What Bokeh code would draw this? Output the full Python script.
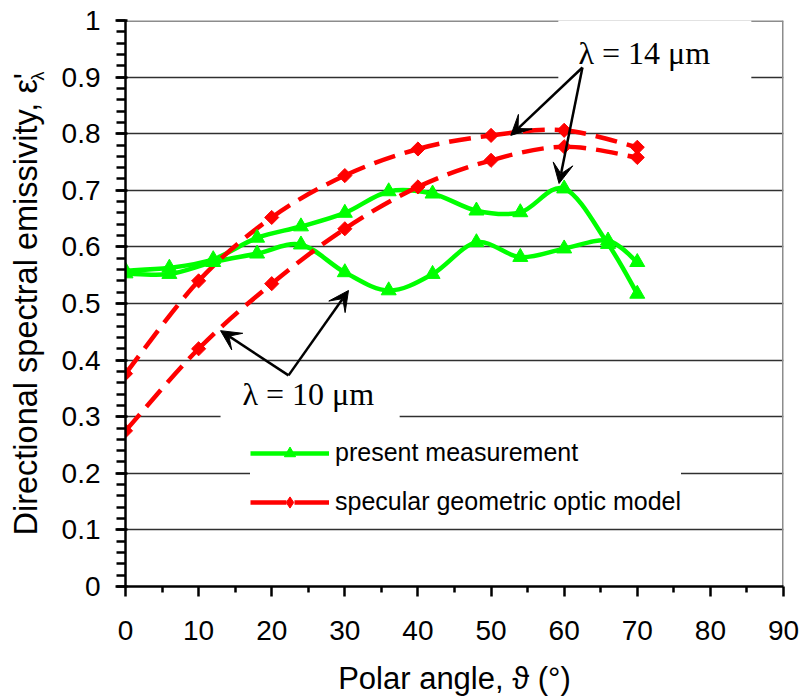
import numpy as np
from bokeh.plotting import figure
from bokeh.layouts import row
from bokeh.models import (Range1d, FixedTicker, Label, Span, BoxAnnotation,
                          Arrow, VeeHead, Legend, LegendItem)
from bokeh.embed import file_html
from bokeh.resources import INLINE

# ---------------- data ----------------
ANGLE_MEAS = [0, 6, 12, 18, 24, 30, 36, 42, 48, 54, 60, 66, 70]
MEAS_14UM = [0.558, 0.563, 0.578, 0.616, 0.636, 0.660, 0.698, 0.694, 0.664, 0.661, 0.703, 0.605, 0.517]
MEAS_10UM = [0.553, 0.552, 0.573, 0.588, 0.604, 0.555, 0.523, 0.552, 0.608, 0.582, 0.597, 0.611, 0.573]

ANGLE_MODEL = [0, 10, 20, 30, 40, 50, 60, 70]
MODEL_14UM = [0.376, 0.540, 0.652, 0.726, 0.773, 0.797, 0.806, 0.776]
MODEL_10UM = [0.275, 0.420, 0.535, 0.632, 0.706, 0.753, 0.777, 0.758]

XTICKS = [0, 10, 20, 30, 40, 50, 60, 70, 80, 90]
YTICKS = [0, 0.1, 0.2, 0.3, 0.4, 0.5, 0.6, 0.7, 0.8, 0.9, 1.0]
YTICK_LABELS = ["0", "0.1", "0.2", "0.3", "0.4", "0.5", "0.6", "0.7", "0.8", "0.9", "1"]

LEGEND_LABELS = ["present measurement", "specular geometric optic model"]
ANNOT_14 = "\u03bb = 14 \u03bcm"
ANNOT_10 = "\u03bb = 10 \u03bcm"
X_LABEL = "Polar angle, \u03d1 (\u00b0)"
Y_LABEL_MAIN = "Directional spectral emissivity, \u03b5'"
Y_LABEL_SUB = "\u03bb"

GREEN = "#00ff00"
RED = "#ff0000"
SANS = "Liberation Sans"
SERIF = "Liberation Serif"

LEFT_W = 55          # narrow strip holding the vertical axis title
TOTAL_W, TOTAL_H = 803, 699
FRAME_TOP, FRAME_BOTTOM = 20, 586


def smooth_segments(xs, ys):
    """Excel-like smoothed line: cubic Bezier control points (Catmull-Rom)."""
    x = np.asarray(xs, float)
    y = np.asarray(ys, float)
    n = len(x)
    xp = np.concatenate([[x[0]], x, [x[-1]]])
    yp = np.concatenate([[y[0]], y, [y[-1]]])
    return dict(
        x0=x[:-1], y0=y[:-1], x1=x[1:], y1=y[1:],
        cx0=x[:-1] + (xp[2:n + 1] - xp[0:n - 1]) / 6.0,
        cy0=y[:-1] + (yp[2:n + 1] - yp[0:n - 1]) / 6.0,
        cx1=x[1:] - (xp[3:n + 2] - xp[1:n]) / 6.0,
        cy1=y[1:] - (yp[3:n + 2] - yp[1:n]) / 6.0,
    )


p = figure(width=TOTAL_W - LEFT_W, height=TOTAL_H, output_backend="svg",
           toolbar_location=None, x_range=Range1d(0, 90), y_range=Range1d(0, 1),
           min_border_left=125 - LEFT_W, min_border_right=20, min_border_top=FRAME_TOP,
           min_border_bottom=TOTAL_H - FRAME_BOTTOM)
p.outline_line_color = None
p.background_fill_color = "white"
p.border_fill_color = "white"

# ---------------- axes ----------------
xa = p.xaxis[0]
xa.ticker = FixedTicker(ticks=XTICKS, minor_ticks=list(np.arange(5, 90, 10)))
xa.axis_line_color = "black"
xa.axis_line_width = 2.5
xa.major_tick_line_color = "black"
xa.major_tick_line_width = 2.5
xa.major_tick_out = 10
xa.major_tick_in = 0
xa.minor_tick_line_color = "black"
xa.minor_tick_line_width = 2.5
xa.minor_tick_out = 6
xa.minor_tick_in = 0
xa.major_label_standoff = 24
xa.major_label_text_font = SANS
xa.major_label_text_font_size = "28px"
xa.major_label_text_color = "black"
xa.axis_label = X_LABEL
xa.axis_label_text_font = SANS
xa.axis_label_text_font_size = "31px"
xa.axis_label_text_font_style = "normal"
xa.axis_label_text_color = "black"
xa.axis_label_standoff = 18

ya = p.yaxis[0]
ya.ticker = FixedTicker(ticks=YTICKS, minor_ticks=list(np.round(np.arange(0, 1.0001, 0.02), 2)))
ya.major_label_overrides = dict(zip(YTICKS, YTICK_LABELS))
ya.axis_line_color = "black"
ya.axis_line_width = 2.5
ya.major_tick_line_color = "black"
ya.major_tick_line_width = 2.5
ya.major_tick_out = 10
ya.major_tick_in = 2
ya.minor_tick_line_color = "black"
ya.minor_tick_line_width = 2.5
ya.minor_tick_out = 9
ya.minor_tick_in = 0
ya.major_label_standoff = 15
ya.major_label_text_font = SANS
ya.major_label_text_font_size = "28px"
ya.major_label_text_color = "black"

p.xgrid.visible = False
p.ygrid.ticker = FixedTicker(ticks=YTICKS[1:-1])
p.ygrid.grid_line_color = "#303030"
p.ygrid.grid_line_width = 1.5

# frame borders (top and right), gray
p.add_layout(Span(location=1, dimension="width", line_color="#8c8c8c",
                  line_width=3, level="underlay"))
p.add_layout(Span(location=90, dimension="height", line_color="#8c8c8c",
                  line_width=3, level="underlay"))

# ---------------- series ----------------
for ys in (MEAS_10UM, MEAS_14UM):
    p.bezier(line_color=GREEN, line_width=4.5, **smooth_segments(ANGLE_MEAS, ys))
for ys in (MODEL_10UM, MODEL_14UM):
    p.bezier(line_color=RED, line_width=4.5, line_dash="22 10",
             **smooth_segments(ANGLE_MODEL, ys))
for ys in (MEAS_10UM, MEAS_14UM):
    p.scatter(ANGLE_MEAS, ys, marker="triangle", size=15, color=GREEN)
for ys in (MODEL_10UM, MODEL_14UM):
    p.scatter(ANGLE_MODEL, ys, marker="square", size=10, angle=np.pi / 4, color=RED)

# legend proxies (one undrawable point, so the legend can sample the style)
NAN = [float("nan")]
g_line = p.line(x=NAN, y=NAN, line_color=GREEN, line_width=4.5)
g_mark = p.scatter(x=NAN, y=NAN, marker="triangle", size=15, color=GREEN)
r_line = p.line(x=NAN, y=NAN, line_color=RED, line_width=4.5, line_dash="36 8")
r_mark = p.scatter(x=NAN, y=NAN, marker="diamond", size=16, color=RED)

# ---------------- annotations ----------------
p.add_layout(BoxAnnotation(left=59.2, right=85.6, bottom=0.89, top=1.02,
                           fill_color="white", fill_alpha=1, line_color=None))
p.add_layout(BoxAnnotation(left=13.0, right=37.5, bottom=0.285, top=0.382,
                           fill_color="white", fill_alpha=1, line_color=None))

for (xs, ys, xe, ye) in [(62.5, 0.917, 52.7, 0.797), (62.5, 0.917, 59.3, 0.712),
                         (22.3, 0.373, 13.0, 0.452), (22.3, 0.373, 30.5, 0.523)]:
    p.add_layout(Arrow(end=VeeHead(size=20, line_color="black", fill_color="black",
                                   line_width=1),
                       x_start=xs, y_start=ys, x_end=xe, y_end=ye,
                       line_color="black", line_width=2.5))

p.add_layout(Label(x=61.96, y=0.943, text=ANNOT_14, text_font=SERIF,
                   text_font_size="32px", text_color="black",
                   text_baseline="alphabetic", text_align="left"))
p.add_layout(Label(x=16.0, y=0.340, text=ANNOT_10, text_font=SERIF,
                   text_font_size="32px", text_color="black",
                   text_baseline="alphabetic", text_align="left"))

legend = Legend(items=[LegendItem(label=LEGEND_LABELS[0], renderers=[g_line, g_mark]),
                       LegendItem(label=LEGEND_LABELS[1], renderers=[r_line, r_mark])],
                location=(125, 70), orientation="vertical",
                glyph_width=79, glyph_height=28, label_height=28, spacing=20,
                padding=7, margin=0, label_standoff=6,
                label_text_font=SANS, label_text_font_size="25px",
                label_text_color="black", border_line_color=None,
                background_fill_color="white", background_fill_alpha=1)
p.add_layout(legend)

# ---------------- strip with the vertical axis title ----------------
# (its frame is aligned with the main frame by the row layout, so its data
#  coordinates are set to equal page pixels)
side = figure(width=LEFT_W, height=TOTAL_H, output_backend="svg", toolbar_location=None,
              x_range=Range1d(0, LEFT_W), y_range=Range1d(FRAME_BOTTOM, FRAME_TOP),
              x_axis_type=None, y_axis_type=None, min_border=0)
side.outline_line_color = None
side.background_fill_color = "white"
side.border_fill_color = "white"
side.grid.visible = False
side.add_layout(Label(x=25, y=535, text=Y_LABEL_MAIN, text_font=SANS,
                      text_font_size="32.5px", text_color="black", angle=np.pi / 2,
                      text_baseline="middle", text_align="left"))
side.add_layout(Label(x=37, y=80, text=Y_LABEL_SUB, text_font=SANS,
                      text_font_size="18px", text_color="black", angle=np.pi / 2,
                      text_baseline="middle", text_align="left"))

layout = row(side, p, spacing=0)
open("out.html", "w").write(file_html(layout, INLINE))
